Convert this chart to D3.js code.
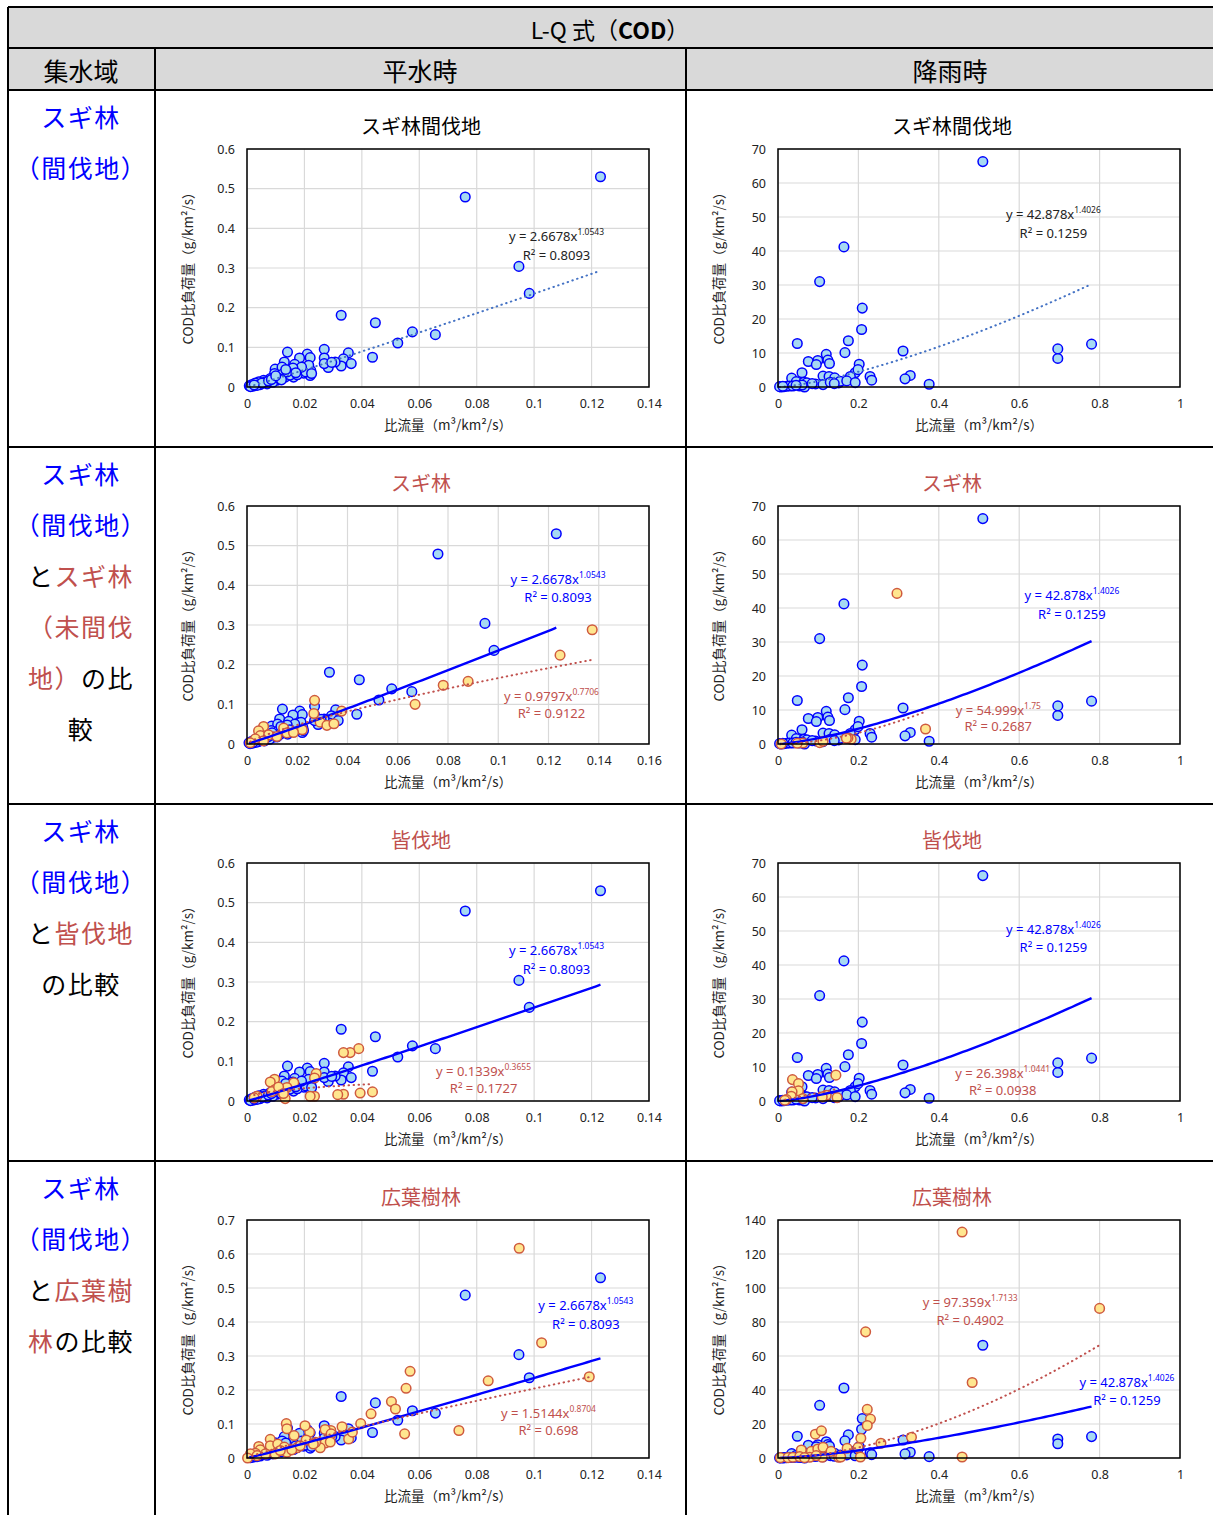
<!DOCTYPE html>
<html>
<head>
<meta charset="utf-8">
<script src="https://cdn.jsdelivr.net/npm/d3@7"></script>
<style>
  body { margin: 0; background: #fff; }
  text { font-family: "Noto Sans CJK JP", "Noto Sans", sans-serif; }
</style>
</head>
<body>
<script>
// ---- data: [specific discharge, COD specific load] ----
// スギ林間伐地 平水時
const kanLow = [
  [0.1231,0.530],[0.0760,0.479],[0.0947,0.304],[0.0983,0.236],[0.0328,0.181],[0.0447,0.162],[0.0576,0.139],[0.0656,0.132],[0.0525,0.111],[0.0437,0.075],
  [0.0269,0.095],[0.0353,0.086],[0.0336,0.071],[0.0363,0.059],[0.0328,0.053],[0.0307,0.063],[0.0283,0.049],[0.0269,0.073],[0.0269,0.059],[0.0295,0.062],
  [0.0141,0.088],[0.0130,0.063],[0.0210,0.083],[0.0220,0.074],[0.0183,0.073],[0.0166,0.057],[0.0211,0.048],[0.0098,0.045],[0.0162,0.042],[0.0183,0.040],
  [0.0222,0.042],[0.0220,0.029],[0.0197,0.035],[0.0122,0.050],[0.0096,0.034],[0.0116,0.027],[0.0133,0.025],[0.0162,0.025],[0.0081,0.021],[0.0058,0.017],
  [0.0041,0.013],[0.0029,0.010],[0.0017,0.006],[0.0008,0.003],[0.0104,0.017],[0.0070,0.008],[0.0046,0.006],[0.0090,0.012],[0.0125,0.033],[0.0150,0.030],
  [0.0175,0.031],[0.0205,0.038],[0.0215,0.055],[0.0190,0.050],[0.0160,0.048],[0.0140,0.038],[0.0110,0.022],[0.0120,0.018],[0.0064,0.013],[0.0035,0.004],
  [0.0020,0.002],[0.0052,0.010],[0.0075,0.015],[0.0085,0.019],[0.0100,0.028],[0.0135,0.044],[0.0170,0.036],[0.0225,0.034],[0.0012,0.001],[0.0025,0.005]
];
// スギ林間伐地 降雨時
const kanRain = [
  [0.5095,66.3],[0.164,41.2],[0.1036,31.0],[0.2096,23.2],[0.208,16.9],[0.048,12.8],[0.175,13.6],[0.1665,10.1],[0.311,10.6],[0.696,11.2],
  [0.696,8.4],[0.780,12.6],[0.120,9.6],[0.099,7.8],[0.0754,7.5],[0.0953,6.6],[0.124,7.9],[0.128,6.9],[0.0597,4.2],[0.202,6.7],
  [0.192,4.2],[0.180,3.1],[0.229,3.1],[0.233,2.0],[0.329,3.4],[0.316,2.4],[0.376,0.8],[0.034,2.6],[0.0456,1.6],[0.0646,1.4],
  [0.072,1.2],[0.0936,0.9],[0.112,3.2],[0.127,3.1],[0.141,2.7],[0.112,0.7],[0.130,1.4],[0.151,1.2],[0.155,1.7],[0.171,1.8],
  [0.192,1.3],[0.008,0.0],[0.015,0.1],[0.021,0.2],[0.029,0.3],[0.037,0.3],[0.054,0.3],[0.066,0.0],[0.004,0.1],[0.199,5.1],
  [0.085,1.0],[0.140,1.0],[0.060,0.6],[0.045,0.5],[0.012,0.2]
];
// スギ林(未間伐地) 平水時 / 降雨時
const sugiLow = [
  [0.1374,0.288],[0.1246,0.224],[0.0880,0.158],[0.0781,0.148],[0.0669,0.100],[0.0269,0.110],[0.0266,0.077],[0.0377,0.083],[0.0291,0.055],[0.0318,0.047],
  [0.0346,0.051],[0.0220,0.036],[0.0146,0.040],[0.0159,0.028],[0.0066,0.044],[0.0046,0.033],[0.0053,0.021],[0.0086,0.023],[0.0066,0.008],[0.0033,0.013],
  [0.0013,0.003],[0.0119,0.019],[0.0185,0.029]
];
const sugiRain = [
  [0.296,44.3],[0.367,4.4],[0.182,1.4],[0.174,1.8],[0.104,0.4],[0.062,0.3],[0.048,0.2],[0.008,0.0],[0.112,0.8],[0.170,1.7]
];
// 皆伐地 平水時 / 降雨時
const kaiLow = [
  [0.0389,0.132],[0.0359,0.122],[0.0336,0.122],[0.0394,0.020],[0.0437,0.023],[0.0336,0.017],[0.0316,0.016],[0.0235,0.012],[0.0220,0.012],[0.0133,0.006],
  [0.0241,0.069],[0.0235,0.058],[0.0163,0.046],[0.0139,0.034],[0.0096,0.055],[0.0081,0.048],[0.0098,0.029],[0.0087,0.024],[0.0110,0.035],[0.0035,0.012],
  [0.0025,0.008],[0.0127,0.019]
];
const kaiRain = [
  [0.144,7.6],[0.036,6.3],[0.051,5.1],[0.051,3.0],[0.035,2.7],[0.033,1.4],[0.147,1.0],[0.021,0.4],[0.017,0.2],[0.062,0.7],[0.120,1.7],[0.110,1.2]
];
// 広葉樹林 平水時 / 降雨時
const kouLow = [
  [0.0948,0.617],[0.1026,0.339],[0.0568,0.255],[0.0554,0.205],[0.0840,0.227],[0.1192,0.239],[0.0503,0.166],[0.0517,0.144],[0.0432,0.130],[0.0396,0.101],
  [0.0331,0.092],[0.0549,0.071],[0.0738,0.081],[0.0354,0.056],[0.0367,0.076],[0.0292,0.081],[0.0272,0.084],[0.0293,0.071],[0.0272,0.044],[0.0290,0.047],
  [0.0255,0.030],[0.0239,0.046],[0.0218,0.076],[0.0202,0.095],[0.0206,0.053],[0.0137,0.101],[0.0139,0.086],[0.0164,0.066],[0.0174,0.030],[0.0081,0.055],
  [0.0081,0.036],[0.0107,0.041],[0.0130,0.032],[0.0139,0.017],[0.0098,0.012],[0.0041,0.034],[0.0046,0.024],[0.0029,0.014],[0.0012,0.012],[0.0002,0.000],
  [0.0035,0.007],[0.0064,0.012],[0.0116,0.022],[0.0156,0.024],[0.0185,0.036],[0.0231,0.041]
];
const kouRain = [
  [0.458,132.9],[0.800,88.0],[0.218,74.2],[0.483,44.4],[0.222,28.6],[0.230,22.9],[0.222,19.1],[0.206,11.6],[0.256,8.7],[0.332,12.2],
  [0.093,14.0],[0.108,16.0],[0.458,0.6],[0.205,0.6],[0.172,5.7],[0.199,6.1],[0.058,4.7],[0.083,3.9],[0.099,5.3],[0.112,6.3],
  [0.132,3.9],[0.151,0.4],[0.156,0.6],[0.110,0.4],[0.079,0.4],[0.006,0.2],[0.025,0.2],[0.037,0.4],[0.054,0.8],[0.066,0.2],[0.095,1.4]
];

// power fits y = a * x^b  ->  [a, b, R2]
const fitKanLow = [2.6678, 1.0543, 0.8093];
const fitKanRain = [42.878, 1.4026, 0.1259];
const fitSugiLow = [0.9797, 0.7706, 0.9122];
const fitSugiRain = [54.999, 1.75, 0.2687];
const fitKaiLow = [0.1339, 0.3655, 0.1727];
const fitKaiRain = [26.398, 1.0441, 0.0938];
const fitKouLow = [1.5144, 0.8704, 0.698];
const fitKouRain = [97.359, 1.7133, 0.4902];

const rowTitles = ["スギ林間伐地", "スギ林", "皆伐地", "広葉樹林"];
const headCols = ["集水域", "平水時", "降雨時"];

// ---- layout ----
const W = 1213, H = 1515;
const rowTops = [90, 447, 804, 1161];
const colLeft = [155, 686];
const PW = 402, PH = 238;
const BLUE = "#0000ff", RED = "#c0504d";

const svg = d3.select("body").append("svg").attr("width", W).attr("height", H);

// header background
svg.append("rect").attr("x", 8).attr("y", 7).attr("width", W - 8).attr("height", 83).attr("fill", "#d9d9d9");

const head = svg.append("text").attr("x", 610).attr("y", 29).attr("text-anchor", "middle")
  .attr("dominant-baseline", "central").attr("font-size", 23);
head.append("tspan").text("L-Q 式（");
head.append("tspan").attr("font-weight", "bold").text("COD");
head.append("tspan").text("）");
[81, 420, 950].forEach((cx, i) => {
  svg.append("text").attr("x", cx).attr("y", 70).attr("text-anchor", "middle")
    .attr("dominant-baseline", "central").attr("font-size", 25).text(headCols[i]);
});

// table lines
const grid = svg.append("g").attr("stroke", "#000").attr("stroke-width", 2);
[7, 48, 90, 447, 804, 1161].forEach(y => {
  grid.append("line").attr("x1", 8).attr("x2", W).attr("y1", y).attr("y2", y);
});
grid.append("line").attr("x1", 8).attr("x2", 8).attr("y1", 7).attr("y2", H);
[155, 686].forEach(x => {
  grid.append("line").attr("x1", x).attr("x2", x).attr("y1", 48).attr("y2", H);
});

// left column labels
const colorOf = { b: BLUE, r: RED, k: "#000" };
const rowLabels = [
  [[["スギ林", "b"]], [["（間伐地）", "b"]]],
  [[["スギ林", "b"]], [["（間伐地）", "b"]], [["と", "k"], ["スギ林", "r"]], [["（未間伐", "r"]], [["地）", "r"], ["の比", "k"]], [["較", "k"]]],
  [[["スギ林", "b"]], [["（間伐地）", "b"]], [["と", "k"], ["皆伐地", "r"]], [["の比較", "k"]]],
  [[["スギ林", "b"]], [["（間伐地）", "b"]], [["と", "k"], ["広葉樹", "r"]], [["林", "r"], ["の比較", "k"]]]
];
rowLabels.forEach((lines, r) => {
  lines.forEach((segs, i) => {
    const t = svg.append("text").attr("x", 81).attr("y", rowTops[r] + 26 + i * 51)
      .attr("text-anchor", "middle").attr("dominant-baseline", "central")
      .attr("font-size", 25).attr("letter-spacing", 1.5);
    segs.forEach(s => t.append("tspan").attr("fill", colorOf[s[1]]).text(s[0]));
  });
});

// ---- charts ----
const charts = [
  { r: 0, c: 0, xMax: 0.14, xStep: 0.02, yMax: 0.6, yStep: 0.1, base: kanLow, baseFit: fitKanLow, baseLab: [0.1078, 0.381, 0.334] },
  { r: 0, c: 1, xMax: 1, xStep: 0.2, yMax: 70, yStep: 10, base: kanRain, baseFit: fitKanRain, baseLab: [0.685, 50.9, 45.2] },
  { r: 1, c: 0, xMax: 0.16, xStep: 0.02, yMax: 0.6, yStep: 0.1, base: kanLow, baseFit: fitKanLow, baseLab: [0.1238, 0.417, 0.371],
    comp: sugiLow, compFit: fitSugiLow, compLab: [0.1212, 0.122, 0.078] },
  { r: 1, c: 1, xMax: 1, xStep: 0.2, yMax: 70, yStep: 10, base: kanRain, baseFit: fitKanRain, baseLab: [0.731, 43.8, 38.2],
    comp: sugiRain, compFit: fitSugiRain, compLab: [0.548, 10.0, 5.4] },
  { r: 2, c: 0, xMax: 0.14, xStep: 0.02, yMax: 0.6, yStep: 0.1, base: kanLow, baseFit: fitKanLow, baseLab: [0.1078, 0.381, 0.333],
    comp: kaiLow, compFit: fitKaiLow, compLab: [0.0824, 0.076, 0.034] },
  { r: 2, c: 1, xMax: 1, xStep: 0.2, yMax: 70, yStep: 10, base: kanRain, baseFit: fitKanRain, baseLab: [0.685, 50.6, 45.3],
    comp: kaiRain, compFit: fitKaiRain, compLab: [0.559, 8.3, 3.3] },
  { r: 3, c: 0, xMax: 0.14, xStep: 0.02, yMax: 0.7, yStep: 0.1, base: kanLow, baseFit: fitKanLow, baseLab: [0.118, 0.449, 0.393],
    comp: kouLow, compFit: fitKouLow, compLab: [0.105, 0.133, 0.083] },
  { r: 3, c: 1, xMax: 1, xStep: 0.2, yMax: 140, yStep: 20, base: kanRain, baseFit: fitKanRain, baseLab: [0.868, 44.8, 33.9],
    comp: kouRain, compFit: fitKouRain, compLab: [0.478, 91.5, 81.3] }
];

const fmt = d3.format("~g");
const numFont = '"Noto Sans", "Open Sans", sans-serif';

function drawChart(cfg) {
  const ox = colLeft[cfg.c] + 92, oy = rowTops[cfg.r] + 59;
  const g = svg.append("g").attr("transform", `translate(${ox},${oy})`);
  const x = d3.scaleLinear().domain([0, cfg.xMax]).range([0, PW]);
  const y = d3.scaleLinear().domain([0, cfg.yMax]).range([PH, 0]);
  const xt = d3.range(0, cfg.xMax + cfg.xStep / 2, cfg.xStep).map(v => +v.toFixed(4));
  const yt = d3.range(0, cfg.yMax + cfg.yStep / 2, cfg.yStep).map(v => +v.toFixed(4));

  // title
  g.append("text").attr("x", PW / 2 - 27).attr("y", -24).attr("text-anchor", "middle")
    .attr("dominant-baseline", "central").attr("font-size", 20)
    .attr("fill", cfg.r === 0 ? "#000" : RED).text(rowTitles[cfg.r]);

  // gridlines
  g.append("g").selectAll("line").data(yt).join("line")
    .attr("x1", 0).attr("x2", PW).attr("y1", d => y(d)).attr("y2", d => y(d))
    .attr("stroke", "#d9d9d9").attr("stroke-width", 1.2);
  g.append("g").selectAll("line").data(xt).join("line")
    .attr("y1", 0).attr("y2", PH).attr("x1", d => x(d)).attr("x2", d => x(d))
    .attr("stroke", "#d9d9d9").attr("stroke-width", 1.2);

  // axes (labels only)
  const xa = g.append("g").attr("transform", `translate(0,${PH})`)
    .call(d3.axisBottom(x).tickValues(xt).tickSize(0).tickPadding(12).tickFormat(fmt));
  const ya = g.append("g")
    .call(d3.axisLeft(y).tickValues(yt).tickSize(0).tickPadding(12).tickFormat(fmt));
  [xa, ya].forEach(a => {
    a.select(".domain").remove();
    a.selectAll("text").attr("font-size", 12.5).attr("fill", "#222").style("font-family", numFont);
  });

  g.append("text").attr("x", PW / 2).attr("y", PH + 37).attr("text-anchor", "middle")
    .attr("dominant-baseline", "central").attr("font-size", 13.5).attr("fill", "#222")
    .text("比流量（m³/km²/s）");
  g.append("text").attr("transform", `translate(-60,${PH / 2 - 3}) rotate(-90)`).attr("text-anchor", "middle")
    .attr("dominant-baseline", "central").attr("font-size", 13.5).attr("fill", "#222")
    .text("COD比負荷量（g/km²/s）");

  // points
  const pts = (data, fill, stroke) => g.append("g").selectAll("circle").data(data).join("circle")
    .attr("cx", d => x(d[0])).attr("cy", d => y(d[1])).attr("r", 4.8)
    .attr("fill", fill).attr("stroke", stroke).attr("stroke-width", 1.5);
  pts(cfg.base, "#a6d9f2", BLUE);
  if (cfg.comp) pts(cfg.comp, "#ffe68f", "#cf5a3e");

  // trend lines
  const line = d3.line().x(d => x(d[0])).y(d => y(d[1]));
  const trend = (data, fit, stroke, width, dash) => {
    const [lo, hi] = d3.extent(data, d => d[0]);
    const xs = d3.range(0, 81).map(i => lo + (hi - lo) * i / 80);
    g.append("path").datum(xs.map(v => [v, fit[0] * Math.pow(v, fit[1])]))
      .attr("d", line).attr("fill", "none").attr("stroke", stroke)
      .attr("stroke-width", width).attr("stroke-dasharray", dash)
      .attr("stroke-linecap", dash ? "round" : "butt");
  };
  if (cfg.r === 0) {
    trend(cfg.base, cfg.baseFit, "#4472c4", 2, "0.5,4.5");
  } else {
    trend(cfg.base, cfg.baseFit, BLUE, 2.4, null);
    trend(cfg.comp, cfg.compFit, RED, 2, "0.5,4.5");
  }

  // plot border
  g.append("rect").attr("width", PW).attr("height", PH).attr("fill", "none")
    .attr("stroke", "#000").attr("stroke-width", 1.5);

  // equation labels
  const label = (fit, pos, color) => {
    const t1 = g.append("text").attr("x", x(pos[0])).attr("y", y(pos[1])).attr("text-anchor", "middle")
      .attr("dominant-baseline", "central").attr("font-size", 13).attr("fill", color)
      .style("font-family", numFont);
    t1.append("tspan").text(`y = ${fit[0]}x`);
    t1.append("tspan").attr("font-size", 8.5).attr("dy", -5).text(fit[1]);
    g.append("text").attr("x", x(pos[0])).attr("y", y(pos[2])).attr("text-anchor", "middle")
      .attr("dominant-baseline", "central").attr("font-size", 13).attr("fill", color)
      .style("font-family", numFont)
      .text(`R² = ${fit[2]}`);
  };
  if (cfg.r === 0) {
    label(cfg.baseFit, cfg.baseLab, "#222");
  } else {
    label(cfg.baseFit, cfg.baseLab, BLUE);
    label(cfg.compFit, cfg.compLab, RED);
  }
}

charts.forEach(drawChart);
</script>
</body>
</html>
